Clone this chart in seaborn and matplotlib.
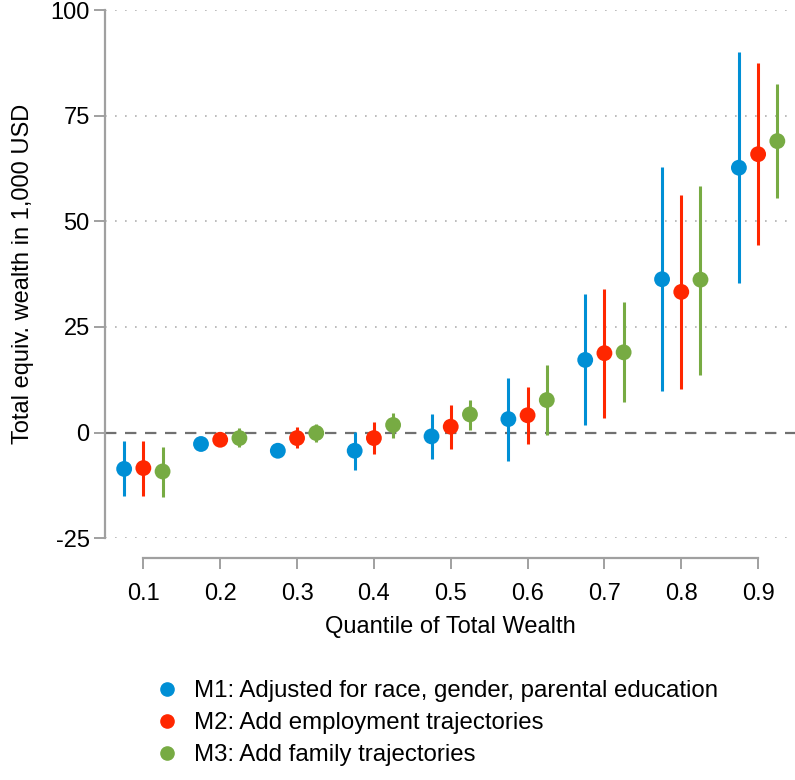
import matplotlib
matplotlib.use('Agg')
import matplotlib.pyplot as plt
import numpy as np
import pandas as pd
import seaborn as sns
from matplotlib.lines import Line2D

# values (1,000 USD)
quantiles = [0.1, 0.2, 0.3, 0.4, 0.5, 0.6, 0.7, 0.8, 0.9]
models = ['M1: Adjusted for race, gender, parental education',
          'M2: Add employment trajectories',
          'M3: Add family trajectories']

m1_est = [-8.6, -2.7, -4.3, -4.3, -0.9, 3.2, 17.2, 36.3, 62.7]
m1_lo = [-15.1, -3.8, -5.3, -8.8, -6.2, -6.8, 1.7, 9.8, 35.4]
m1_hi = [-2.1, -1.6, -3.3, 0.1, 4.4, 13.0, 32.7, 62.9, 90.1]

m2_est = [-8.4, -1.7, -1.3, -1.3, 1.4, 4.1, 18.8, 33.3, 65.9]
m2_lo = [-14.9, -2.7, -3.6, -5.0, -3.9, -2.8, 3.5, 10.4, 44.3]
m2_hi = [-2.1, -0.7, 1.3, 2.6, 6.5, 10.9, 34.0, 56.2, 87.5]

m3_est = [-9.2, -1.3, -0.1, 1.8, 4.3, 7.7, 19.0, 36.2, 69.0]
m3_lo = [-15.3, -3.5, -2.3, -1.3, 0.7, -0.5, 7.3, 13.7, 55.6]
m3_hi = [-3.3, 1.0, 2.1, 4.7, 7.8, 15.9, 30.8, 58.4, 82.4]

colors = ['#008FD5', '#FF2700', '#77AB43']
offsets = [-0.025, 0.0, 0.025]

frames = []
for name, est, lo, hi, off in zip(models, [m1_est, m2_est, m3_est],
                                  [m1_lo, m2_lo, m3_lo], [m1_hi, m2_hi, m3_hi], offsets):
    frames.append(pd.DataFrame({'q': np.array(quantiles) + off, 'est': est,
                                'lo': lo, 'hi': hi, 'model': name}))
df = pd.concat(frames, ignore_index=True)

sns.set_style('white')
plt.rcParams['font.family'] = ['Liberation Sans', 'DejaVu Sans']
plt.rcParams['text.color'] = 'black'
plt.rcParams['axes.labelcolor'] = 'black'

fig = plt.figure(figsize=(7.95, 7.8), dpi=100)
ax = fig.add_axes([0.132, 0.310, 0.868, 0.677])

# grid and zero line
for y in [-25, 0, 25, 50, 75, 100]:
    ax.axhline(y, color='#b0b0b0', lw=1.2, ls=(0, (1, 5)), zorder=0)
ax.axhline(0, color='#707070', lw=1.6, ls=(0, (5, 4)), zorder=1)

# confidence intervals
for name, c in zip(models, colors):
    sub = df[df['model'] == name]
    ax.vlines(sub['q'], sub['lo'], sub['hi'], color=c, lw=2.2, zorder=2)

sns.scatterplot(data=df, x='q', y='est', hue='model', palette=colors,
                s=130, edgecolor='none', legend=False, ax=ax, zorder=3)

ax.set_xlim(0.05, 0.948)
ax.set_ylim(-25, 100)
ax.set_xticks(quantiles)
ax.set_xticklabels(['{:.1f}'.format(q) for q in quantiles])
ax.set_yticks([-25, 0, 25, 50, 75, 100])
ax.set_yticklabels(['-25', '0', '25', '50', '75', '100'])

for s in ['top', 'right']:
    ax.spines[s].set_visible(False)
for s in ['left', 'bottom']:
    ax.spines[s].set_color('#a0a0a0')
    ax.spines[s].set_linewidth(1.6)
ax.spines['bottom'].set_position(('outward', 14))
ax.spines['bottom'].set_bounds(0.1, 0.9)

ax.tick_params(axis='both', direction='out', length=8, width=1.4, color='#a0a0a0',
               labelsize=17, labelcolor='black', bottom=True, left=True)
ax.tick_params(axis='x', pad=10)
ax.tick_params(axis='y', pad=3)

ax.set_xlabel('Quantile of Total Wealth', fontsize=17, labelpad=8)
ax.set_ylabel('Total equiv. wealth in 1,000 USD', fontsize=17, labelpad=12)

handles = [Line2D([], [], marker='o', ls='none', color=c, markersize=9.5) for c in colors]
fig.legend(handles, models, loc='upper left', bbox_to_anchor=(0.186, 0.128),
           frameon=False, fontsize=17.3, handletextpad=0.3, labelspacing=0.42,
           handlelength=1.6, borderaxespad=0, borderpad=0)

fig.savefig('out.png', dpi=100)
